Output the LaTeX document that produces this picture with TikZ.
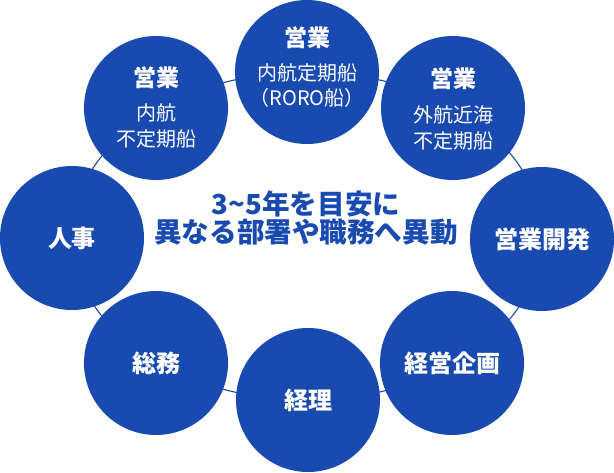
\documentclass[tikz,border=0pt]{standalone}
\usepackage{fontspec}
\setmainfont{Noto Sans CJK JP}
\definecolor{navy}{HTML}{184AB0}
\tikzset{
  dept/.style={circle, fill=navy, draw=none, minimum size=144pt, inner sep=0pt},
  ttl/.style={text=white, font=\fontsize{23}{26}\selectfont\bfseries, inner sep=0pt},
  big/.style={text=white, font=\fontsize{24}{28}\selectfont\bfseries, inner sep=0pt},
  sub/.style={text=white, font=\fontsize{20}{24}\selectfont, inner sep=0pt},
  msg/.style={text=navy, font=\fontsize{27.6}{30}\selectfont\bfseries, inner sep=0pt},
  ring/.style={draw=navy, line width=1.1pt}
}
\begin{document}
\begin{tikzpicture}[x=1pt,y=-1pt]
\useasboundingbox (0,0) rectangle (614,472);
\coordinate (mid) at (307,236);
\draw[ring] (mid) ellipse [x radius=235pt, y radius=164pt];
% circles
\node[dept] (top) at (307,72) {};
\node[dept] (ur) at (453,108) {};
\node[dept] (rt) at (542,239) {};
\node[dept] (lr) at (452,363) {};
\node[dept] (bt) at (308,400) {};
\node[dept] (ll) at (156,363) {};
\node[dept] (lt) at (72,238) {};
\node[dept] (ul) at (156,108) {};
% texts
\node[ttl] (topA) at (307,38) {営業};
\node[sub] (topB) at (307,73) {内航定期船};
\node[sub] (topC) at (307,98) {（RORO船）};
\node[ttl] (urA) at (453,79) {営業};
\node[sub] (urB) at (453,115) {外航近海};
\node[sub] (urC) at (453,141) {不定期船};
\node[ttl] (ulA) at (156,77.5) {営業};
\node[sub] (ulB) at (156,113) {内航};
\node[sub] (ulC) at (156,139) {不定期船};
\node[big] (rtA) at (542,239) {営業開発};
\node[big] (lrA) at (452,363) {経営企画};
\node[big] (btA) at (308,400) {経理};
\node[big] (llA) at (156,363) {総務};
\node[big] (ltA) at (72,238) {人事};
\node[msg] (m1) at (306,204) {3\textasciitilde5年を目安に};
\node[msg] (m2) at (306,232.5) {異なる部署や職務へ異動};
\end{tikzpicture}
\end{document}
